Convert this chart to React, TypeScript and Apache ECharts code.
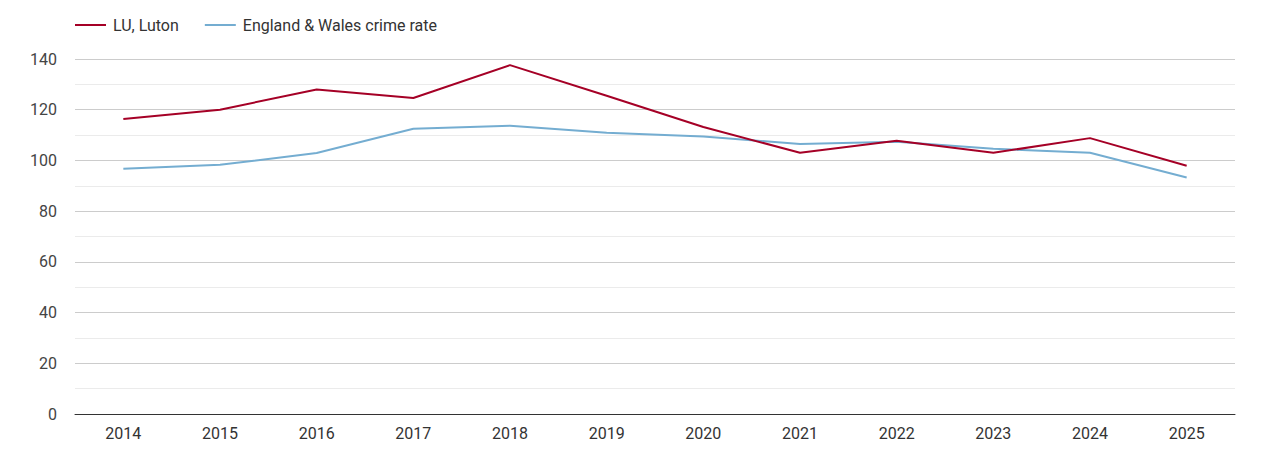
import React, { useEffect, useRef } from 'react';
import * as echarts from 'echarts';

// 年份類目
const years = ['2014', '2015', '2016', '2017', '2018', '2019', '2020', '2021', '2022', '2023', '2024', '2025'];

// 系列數據
const lutonRate = [116.3, 120.0, 128.0, 124.6, 137.6, 125.5, 113.2, 103.0, 107.8, 103.0, 108.8, 97.9];
const englandWalesRate = [96.7, 98.3, 102.9, 112.5, 113.7, 110.9, 109.4, 106.5, 107.4, 104.6, 103.0, 93.3];

const seriesNames = ['LU, Luton', 'England & Wales crime rate'];
const seriesColors = ['#a50026', '#74add1'];

const FONT = 'Roboto, "Liberation Sans", Arial, sans-serif';

const App: React.FC = () => {
  const chartRef = useRef<HTMLDivElement>(null);

  useEffect(() => {
    if (!chartRef.current) return;
    document.body.style.margin = '0';

    const chart = echarts.init(chartRef.current, undefined, { renderer: 'svg' });

    const option: echarts.EChartsOption = {
      animation: false,
      textStyle: { fontFamily: FONT },
      legend: {
        left: 70,
        top: 12,
        icon: 'rect',
        itemWidth: 31,
        itemHeight: 2,
        itemGap: 26,
        textStyle: { fontSize: 16, color: '#333', fontFamily: FONT, padding: [0, 0, 0, 2] },
        data: seriesNames,
      },
      grid: {
        left: 75,
        right: 35,
        top: 59,
        bottom: 36,
        containLabel: false,
      },
      xAxis: {
        type: 'category',
        data: years,
        boundaryGap: true,
        axisLine: { lineStyle: { color: '#333', width: 1 } },
        axisTick: { show: false },
        axisLabel: { fontSize: 16, color: '#333', margin: 11, fontFamily: FONT },
      },
      yAxis: {
        type: 'value',
        min: 0,
        max: 140,
        interval: 20,
        axisLine: { show: false },
        axisTick: { show: false },
        axisLabel: { fontSize: 16, color: '#444', margin: 18, fontFamily: FONT },
        splitLine: { lineStyle: { color: '#cccccc', width: 1 } },
        minorTick: { show: false, splitNumber: 2 },
        minorSplitLine: { show: true, lineStyle: { color: '#ebebeb', width: 1 } },
      },
      series: [
        {
          name: seriesNames[0],
          type: 'line',
          data: lutonRate,
          showSymbol: false,
          symbol: 'none',
          itemStyle: { color: seriesColors[0] },
          lineStyle: { color: seriesColors[0], width: 2 },
          z: 3,
        },
        {
          name: seriesNames[1],
          type: 'line',
          data: englandWalesRate,
          showSymbol: false,
          symbol: 'none',
          itemStyle: { color: seriesColors[1] },
          lineStyle: { color: seriesColors[1], width: 2 },
          z: 2,
        },
      ],
    };

    chart.setOption(option);

    return () => {
      chart.dispose();
    };
  }, []);

  return <div ref={chartRef} style={{ width: 1270, height: 450 }} />;
};

export default App;
